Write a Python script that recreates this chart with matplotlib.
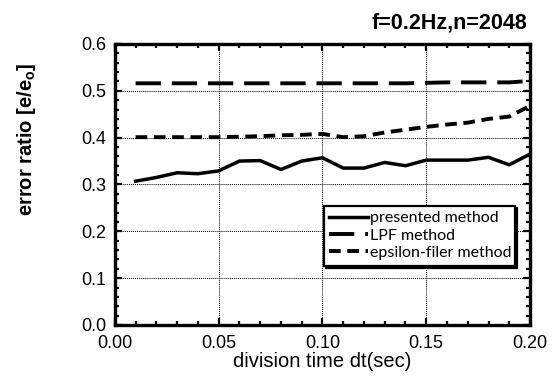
import matplotlib
matplotlib.use("Agg")
import matplotlib.pyplot as plt
from matplotlib.ticker import MultipleLocator

dt = [0.01, 0.02, 0.03, 0.04, 0.05, 0.06, 0.07, 0.08, 0.09, 0.10,
      0.11, 0.12, 0.13, 0.14, 0.15, 0.16, 0.17, 0.18, 0.19, 0.20]
presented = [0.307, 0.315, 0.325, 0.323, 0.329, 0.350, 0.351, 0.332, 0.350, 0.357,
             0.335, 0.335, 0.347, 0.340, 0.352, 0.352, 0.352, 0.358, 0.342, 0.365]
lpf = [0.516, 0.516, 0.516, 0.516, 0.516, 0.516, 0.516, 0.516, 0.516, 0.516,
       0.516, 0.516, 0.516, 0.516, 0.517, 0.518, 0.518, 0.518, 0.518, 0.521]
epsilon = [0.401, 0.401, 0.401, 0.401, 0.401, 0.402, 0.403, 0.405, 0.406, 0.408,
           0.401, 0.403, 0.411, 0.417, 0.423, 0.428, 0.432, 0.440, 0.445, 0.468]
xticks = [0.00, 0.05, 0.10, 0.15, 0.20]
xtick_labels = ['0.00', '0.05', '0.10', '0.15', '0.20']
yticks = [0.0, 0.1, 0.2, 0.3, 0.4, 0.5, 0.6]
ytick_labels = ['0.0', '0.1', '0.2', '0.3', '0.4', '0.5', '0.6']

plt.rcParams['font.family'] = ['Liberation Sans', 'DejaVu Sans']

fig = plt.figure(figsize=(5.55, 3.79), dpi=100)
ax = fig.add_axes([0.207, 0.1425, 0.748, 0.7415])

ax.plot(dt, presented, color='black', lw=2.5, ls='-', label='presented method')
ax.plot(dt, lpf, color='black', lw=2.8, ls=(0, (6.5, 2.8)), label='LPF method')
ax.plot(dt, epsilon, color='black', lw=2.8, ls=(0, (3.0, 1.7)), label='epsilon-filer method')

ax.set_xlim(0, 0.2)
ax.set_ylim(0, 0.6)
ax.set_xticks(xticks)
ax.set_xticklabels(xtick_labels)
ax.set_yticks(yticks)
ax.set_yticklabels(ytick_labels)
ax.xaxis.set_minor_locator(MultipleLocator(0.01))
ax.yaxis.set_minor_locator(MultipleLocator(0.02))
ax.tick_params(which='both', direction='in', top=True, right=True, width=1.6)
ax.tick_params(which='major', length=5, labelsize=13)
ax.tick_params(axis='x', which='major', pad=7)
ax.tick_params(axis='y', which='major', pad=6)
ax.tick_params(which='minor', length=3)
for s in ax.spines.values():
    s.set_linewidth(2.4)
ax.grid(True, which='major', color='black', ls=(0, (1, 1)), lw=0.7)

ax.set_xlabel('division time dt(sec)', fontsize=14.5, labelpad=0)
ax.set_ylabel(r'error ratio [e/e$_\mathregular{o}$]', fontsize=14.5, fontweight='bold')
ax.yaxis.set_label_coords(-0.185, 0.662)
fig.text(0.951, 0.926, 'f=0.2Hz,n=2048', ha='right', va='baseline',
         fontsize=15.5, fontweight='bold')

leg = ax.legend(loc='upper left', bbox_to_anchor=(0.503, 0.21, 0.46, 0.215), mode='expand',
                prop={'family': ['Lato', 'DejaVu Sans'], 'size': 11.5},
                handlelength=2.4, handletextpad=0.15, labelspacing=0.2,
                borderpad=0.35, borderaxespad=0, fancybox=False, framealpha=1,
                edgecolor='black',
                shadow={'facecolor': 'black', 'edgecolor': 'black', 'alpha': 1})
leg.get_frame().set_linewidth(1.6)

fig.savefig('out.png', dpi=100)
